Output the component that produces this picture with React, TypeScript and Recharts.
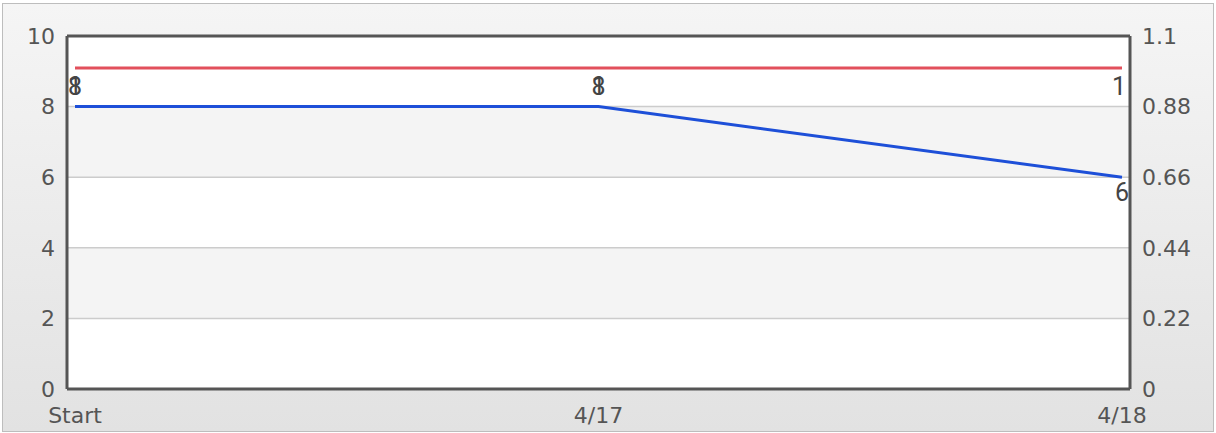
import React from "react";
import { LineChart, Line, XAxis, YAxis, CartesianGrid, LabelList } from "recharts";

const labels = ['Start', '4/17', '4/18'];
const blueValues = [8, 8, 6];
const redValues = [1, 1, 1];
const leftTicks = [0, 2, 4, 6, 8, 10];
const rightTicks = [0, 0.22, 0.44, 0.66, 0.88, 1.1];

const data = labels.map((label, i) => ({ label, blue: blueValues[i], red: redValues[i] }));

const tickStyle = { fill: '#555', fontSize: 22, fontFamily: '"DejaVu Sans", sans-serif' };
const axisLine = { stroke: '#555', strokeWidth: 3 };

const BlueLabel = (props: any) => {
  const { x, y, value, index } = props;
  const last = index === blueValues.length - 1;
  return (
    <text x={x} y={last ? y + 6 : y - 12} dy={last ? '0.71em' : 0} textAnchor="middle"
      fill="#444" fontSize={25} fontFamily="Roboto, sans-serif">
      {value}
    </text>
  );
};

const RedLabel = (props: any) => {
  const { x, y, value, index } = props;
  const last = index === redValues.length - 1;
  return (
    <text x={last ? x + 4 : x} y={y + 9} dy="0.71em" textAnchor={last ? 'end' : 'middle'}
      fill="#444" fontSize={25} fontFamily="Roboto, sans-serif">
      {value}
    </text>
  );
};

const App: React.FC = () => (
  <div style={{ position: 'relative', width: 1216, height: 433 }}>
    <style>{'body{margin:0}'}</style>
    <div style={{
      position: 'absolute', left: 2, top: 3, width: 1210, height: 427,
      border: '1px solid #bdbdbd', background: 'linear-gradient(#f5f5f5, #e2e2e2)',
    }} />
    <div style={{ position: 'absolute', left: 0, top: 0 }}>
      <LineChart width={1216} height={433} data={data}
        margin={{ top: 35, right: 6, left: 7, bottom: 4 }}
        style={{ fontFamily: '"DejaVu Sans", sans-serif' }}>
        <CartesianGrid yAxisId="left" vertical={false} stroke="#cccccc" strokeWidth={1.5}
          horizontalFill={['#ffffff', '#f4f4f4']} fillOpacity={1} />
        <XAxis dataKey="label" padding={{ left: 8, right: 8 }} height={40}
          axisLine={axisLine} tickLine={false} tickSize={6} tickMargin={12} tick={tickStyle} interval={0} />
        <XAxis xAxisId="top" dataKey="label" orientation="top" height={1}
          axisLine={axisLine} tickLine={false} tick={false} />
        <YAxis yAxisId="left" domain={[0, 10]} ticks={leftTicks} width={60}
          axisLine={axisLine} tickLine={false} tickSize={6} tickMargin={6} tick={tickStyle} />
        <YAxis yAxisId="right" orientation="right" domain={[0, 1.1]} ticks={rightTicks} width={80}
          axisLine={axisLine} tickLine={false} tickSize={6} tickMargin={6} tick={tickStyle} />
        <Line yAxisId="right" dataKey="red" stroke="#e2505c" strokeWidth={3} dot={false} isAnimationActive={false}>
          <LabelList dataKey="red" content={RedLabel} />
        </Line>
        <Line yAxisId="left" dataKey="blue" stroke="#1d4fd8" strokeWidth={3} dot={false} isAnimationActive={false}>
          <LabelList dataKey="blue" content={BlueLabel} />
        </Line>
      </LineChart>
    </div>
  </div>
);

export default App;
